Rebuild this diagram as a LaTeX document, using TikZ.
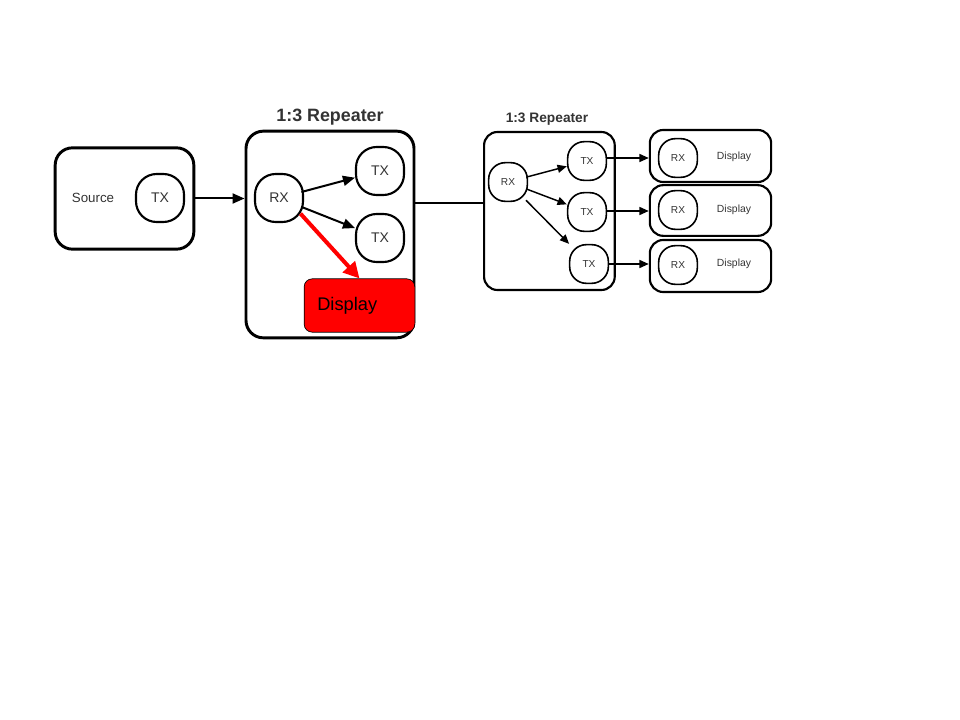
\documentclass[tikz,border=0pt]{standalone}
\usepackage{fontspec}
\setmainfont{Liberation Sans}
\usetikzlibrary{arrows.meta}

\begin{document}
\begin{tikzpicture}[
		x=0.75pt, y=-0.75pt,
		every node/.style={inner sep=0pt, text=black!80},
		box/.style={draw, rectangle, rounded corners=13pt, line width=2.2pt},
		smallbox/.style={draw, rectangle, rounded corners=10pt, line width=1.6pt},
		port/.style={draw, rectangle, rounded corners=15.5pt, line width=1.6pt, minimum size=36pt, font=\fontsize{10.5}{12}\selectfont},
		smallport/.style={draw, rectangle, rounded corners=12.5pt, line width=1.2pt, minimum size=29pt, font=\fontsize{7.6}{9}\selectfont},
		link/.style={line width=1.5pt, -{Triangle[length=9pt, width=7.5pt]}},
		smalllink/.style={line width=1.1pt, -{Triangle[length=7pt, width=6pt]}}
	]
  \useasboundingbox (0,0) rectangle (960,720);
  % left: source and repeater
  \node (src) [box, minimum width=104pt, minimum height=76pt] at (124.5,198.5) {};
  \node (src_label) [font=\fontsize{10}{12}\selectfont] at (93,198) {Source};
  \node (tx) [port] at (160,198) {TX};
  \node (rep) [box, minimum width=126pt, minimum height=155pt] at (330,234.5) {};
  \node (rep_title) [font=\bfseries\fontsize{13.4}{15}\selectfont] at (330,117) {1:3 Repeater};
  \node (rx) [port] at (279,198) {RX};
  \node (tx_a) [port] at (380,171) {TX};
  \node (tx_b) [port] at (380,238) {TX};
  \node (dsp) [draw, fill=red, rounded corners=6pt, line width=0.5pt, minimum width=83pt, minimum height=40pt] at (359.5,305.5) {};
  \node (dsp_label) [anchor=west, text=black, font=\fontsize{13.7}{16}\selectfont] at (317,306) {Display};
  \draw [link] (src.east) -- (rep.west |- src.east);
  \draw [link, shorten <=-2pt] (rx) -- (tx_a);
  \draw [link, shorten <=-2pt] (rx) -- (tx_b);
  \draw [line width=3pt, red, shorten <=-4pt, -{Triangle[length=12pt, width=12pt]}] (rx.-38) -- (dsp.north);
  % link between the two pictures
  \coordinate (mid) at (450,203);
  \draw [line width=0.8pt] (rep.east |- mid) -- (483,203) coordinate (mid_end);
  % right: repeater and displays
  \node (rep2) [smallbox, minimum width=98pt, minimum height=118.5pt, anchor=west] at (mid_end |- 0,211) {};
  \node (rep2_title) [font=\bfseries\fontsize{10.3}{12}\selectfont] at (547,119) {1:3 Repeater};
  \node (rx2) [smallport] at (508,182) {RX};
  \node (rtx_a) [smallport] at (587,161) {TX};
  \node (rtx_b) [smallport] at (587,212) {TX};
  \node (rtx_c) [smallport] at (589,264) {TX};
  \node (disp_a) [smallbox, minimum width=91pt, minimum height=39pt] at (710.5,156) {};
  \node (disp_b) [smallbox, minimum width=91pt, minimum height=38pt] at (710.5,210.5) {};
  \node (disp_c) [smallbox, minimum width=91pt, minimum height=39pt] at (710.5,266) {};
  \node (drx_a) [smallport] at (678,158) {RX};
  \node (drx_b) [smallport] at (678,210) {RX};
  \node (drx_c) [smallport] at (678,265) {RX};
  \node (dlabel_a) [font=\fontsize{7.8}{9}\selectfont] at (734,157) {Display};
  \node (dlabel_b) [font=\fontsize{7.8}{9}\selectfont] at (734,210) {Display};
  \node (dlabel_c) [font=\fontsize{7.8}{9}\selectfont] at (734,264) {Display};
  \draw [smalllink, shorten <=-1.5pt] (rx2) -- (rtx_a);
  \draw [smalllink, shorten <=-1.5pt] (rx2) -- (rtx_b);
  \draw [smalllink, shorten <=-2pt] (rx2) -- (rtx_c);
  \draw [smalllink] (rtx_a.east |- 0,158) -- (disp_a.west |- 0,158);
  \draw [smalllink] (rtx_b.east |- 0,211) -- (disp_b.west |- 0,211);
  \draw [smalllink] (rtx_c.east |- 0,264) -- (disp_c.west |- 0,264);
\end{tikzpicture}
\end{document}
